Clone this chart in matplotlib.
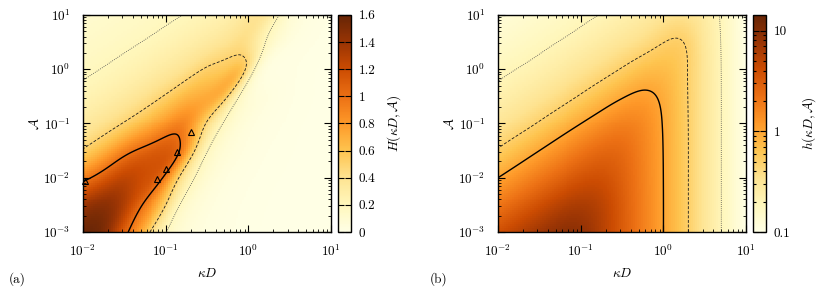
import numpy as np
import matplotlib.pyplot as plt
from matplotlib.colors import LogNorm, Normalize
from matplotlib.ticker import FixedLocator, FixedFormatter, LogLocator, NullFormatter

plt.rcParams.update({
    "font.family": "serif",
    "font.serif": ["cmr10"],
    "mathtext.fontset": "cm",
    "axes.formatter.use_mathtext": True,
    "axes.unicode_minus": False,
    "font.size": 9.5,
})

log_kd = [-2, -1.75, -1.5, -1.25, -1, -0.75, -0.5, -0.25, 0, 0.25, 0.5, 0.75, 1]
log_a = [-3, -2.5, -2, -1.5, -1, -0.5, 0, 0.5, 1]

# panel (a): H(kD, A), rows follow log_a, columns follow log_kd
H_vals = [
    [1.58, 1.50, 1.08, 0.62, 0.21, 0.07, 0.03, 0.015, 0.008, 0.005, 0.003, 0.002, 0.001],
    [1.38, 1.45, 1.30, 0.95, 0.50, 0.13, 0.05, 0.02, 0.01, 0.006, 0.004, 0.002, 0.001],
    [0.93, 1.12, 1.25, 1.18, 0.92, 0.32, 0.10, 0.035, 0.015, 0.008, 0.005, 0.003, 0.002],
    [0.519, 0.684, 0.912, 1.06, 1.12, 0.80, 0.21, 0.07, 0.03, 0.012, 0.007, 0.004, 0.002],
    [0.335, 0.41, 0.515, 0.66, 0.82, 0.88, 0.47, 0.15, 0.05, 0.02, 0.01, 0.005, 0.003],
    [0.238, 0.280, 0.335, 0.412, 0.519, 0.66, 0.72, 0.50, 0.09, 0.035, 0.015, 0.007, 0.004],
    [0.180, 0.205, 0.238, 0.280, 0.335, 0.412, 0.52, 0.59, 0.40, 0.03, 0.015, 0.008, 0.004],
    [0.140, 0.158, 0.180, 0.205, 0.238, 0.280, 0.335, 0.40, 0.41, 0.16, 0.04, 0.015, 0.008],
    [0.112, 0.125, 0.140, 0.158, 0.180, 0.205, 0.238, 0.280, 0.37, 0.33, 0.10, 0.03, 0.012],
]

# panel (b): h(kD, A)
h_vals = [
    [3.85, 5.30, 7.20, 9.00, 8.60, 5.60, 3.20, 1.78, 1.00, 0.562, 0.316, 0.178, 0.100],
    [2.00, 2.80, 3.90, 5.30, 6.10, 5.10, 3.15, 1.78, 1.00, 0.562, 0.316, 0.178, 0.100],
    [1.00, 1.41, 1.99, 2.75, 3.59, 3.83, 2.88, 1.75, 0.997, 0.562, 0.316, 0.178, 0.100],
    [0.525, 0.716, 1.00, 1.41, 1.96, 2.50, 2.44, 1.68, 0.990, 0.562, 0.316, 0.178, 0.100],
    [0.324, 0.403, 0.525, 0.716, 0.995, 1.37, 1.69, 1.50, 0.968, 0.559, 0.316, 0.178, 0.100],
    [0.231, 0.271, 0.324, 0.403, 0.525, 0.710, 0.953, 1.107, 0.893, 0.551, 0.315, 0.178, 0.100],
    [0.181, 0.203, 0.231, 0.271, 0.324, 0.402, 0.518, 0.665, 0.708, 0.540, 0.312, 0.178, 0.100],
    [0.149, 0.163, 0.181, 0.203, 0.231, 0.271, 0.322, 0.393, 0.495, 0.495, 0.301, 0.177, 0.100],
    [0.125, 0.136, 0.149, 0.163, 0.181, 0.203, 0.231, 0.267, 0.320, 0.345, 0.271, 0.173, 0.0995],
]

levels = [0.2, 0.5, 1.0]

# measured points in panel (a)
pts_kd = [0.0105, 0.079, 0.10, 0.138, 0.20]
pts_a = [0.0089, 0.0095, 0.0148, 0.030, 0.069]

cb_a_ticks = [0, 0.2, 0.4, 0.6, 0.8, 1.0, 1.2, 1.4, 1.6]
cb_a_labels = ["0", "0.2", "0.4", "0.6", "0.8", "1", "1.2", "1.4", "1.6"]
cb_b_ticks = [0.1, 1, 10]
cb_b_labels = ["0.1", "1", "10"]


def nat_spline(x, y, xe):
    # natural cubic spline, linear beyond the end nodes
    x = np.asarray(x, float)
    y = np.asarray(y, float)
    xe = np.asarray(xe, float)
    n = len(x)
    h = np.diff(x)
    A = np.zeros((n, n))
    r = np.zeros(n)
    A[0, 0] = A[-1, -1] = 1
    for i in range(1, n - 1):
        A[i, i - 1] = h[i - 1]
        A[i, i] = 2 * (h[i - 1] + h[i])
        A[i, i + 1] = h[i]
        r[i] = 6 * ((y[i + 1] - y[i]) / h[i] - (y[i] - y[i - 1]) / h[i - 1])
    m = np.linalg.solve(A, r)
    xc = np.clip(xe, x[0], x[-1])
    k = np.clip(np.searchsorted(x, xc) - 1, 0, n - 2)
    hk = h[k]
    a = (x[k + 1] - xc) / hk
    b = (xc - x[k]) / hk
    out = a * y[k] + b * y[k + 1] + ((a ** 3 - a) * m[k] + (b ** 3 - b) * m[k + 1]) * hk ** 2 / 6
    s0 = (y[1] - y[0]) / h[0] - h[0] * m[1] / 6
    s1 = (y[-1] - y[-2]) / h[-1] + h[-1] * m[-2] / 6
    out = np.where(xe < x[0], y[0] + s0 * (xe - x[0]), out)
    out = np.where(xe > x[-1], y[-1] + s1 * (xe - x[-1]), out)
    return out


def smooth_field(vals, uu, vv, shear):
    # spline each row, then spline across rows along lines du/dv = shear
    z = np.log10(np.asarray(vals, dtype=float))
    UU, VV = np.meshgrid(uu, vv)
    stack = np.array([nat_spline(log_kd, row, UU - shear * (VV - v0))
                      for row, v0 in zip(z, log_a)])
    eye = np.eye(len(log_a))
    W = np.array([nat_spline(log_a, e, vv) for e in eye]).T
    out = np.einsum("ji,ijk->jk", W, stack)
    return 10 ** out


def draw_panel(ax, cax, vals, shear, norm, ticks, labels, clabel, log_cb):
    ue = np.linspace(log_kd[0], log_kd[-1], 126)
    ve = np.linspace(log_a[0], log_a[-1], 111)
    uc = 0.5 * (ue[1:] + ue[:-1])
    vc = 0.5 * (ve[1:] + ve[:-1])
    Z = smooth_field(vals, uc, vc, shear)
    mesh = ax.pcolormesh(10 ** ue, 10 ** ve, Z, cmap="YlOrBr", norm=norm,
                         shading="flat", rasterized=True)

    uf = np.linspace(log_kd[0], log_kd[-1], 400)
    vf = np.linspace(log_a[0], log_a[-1], 400)
    Zf = smooth_field(vals, uf, vf, shear)
    ax.contour(10 ** uf, 10 ** vf, Zf, levels=levels, colors=["0.3", "0.1", "k"],
               linestyles=[(0, (1, 1.5)), (0, (3.5, 2)), "solid"],
               linewidths=[0.6, 0.6, 1.0])

    ax.set_xscale("log")
    ax.set_yscale("log")
    ax.set_xlim(1e-2, 1e1)
    ax.set_ylim(1e-3, 1e1)
    ax.set_xlabel(r"$\kappa D$", fontsize=9.5, labelpad=6)
    ax.set_ylabel(r"$\mathcal{A}$", fontsize=9.5, labelpad=1)
    ax.tick_params(which="both", direction="in", top=True, right=True)
    ax.tick_params(which="major", length=5, width=0.8, labelsize=9.5)
    ax.tick_params(axis="x", which="major", pad=8)
    ax.tick_params(axis="y", which="major", pad=9)
    ax.tick_params(which="minor", length=2.5, width=0.6)
    for s in ax.spines.values():
        s.set_linewidth(1.0)

    cb = plt.colorbar(mesh, cax=cax)
    cb.outline.set_linewidth(1.0)
    cax.yaxis.set_major_locator(FixedLocator(ticks))
    cax.yaxis.set_major_formatter(FixedFormatter(labels))
    if log_cb:
        cax.yaxis.set_minor_locator(LogLocator(subs=np.arange(2, 10)))
        cax.yaxis.set_minor_formatter(NullFormatter())
    cax.tick_params(which="both", direction="in", left=True, right=True,
                    colors="k", width=0.8)
    cax.tick_params(which="major", length=4, labelsize=9.5, pad=5.5)
    cax.tick_params(which="minor", length=2)
    cb.set_label(clabel, fontsize=9.5, labelpad=7)


fig = plt.figure(figsize=(8.3, 2.93), dpi=100)
ax_a = fig.add_axes([0.100, 0.208, 0.299, 0.741])
cax_a = fig.add_axes([0.4072, 0.208, 0.0157, 0.741])
ax_b = fig.add_axes([0.600, 0.208, 0.299, 0.741])
cax_b = fig.add_axes([0.9072, 0.208, 0.0157, 0.741])

draw_panel(ax_a, cax_a, H_vals, 0.345, Normalize(0, 1.6), cb_a_ticks, cb_a_labels,
           r"$H(\kappa D,\mathcal{A})$", False)
ax_a.plot(pts_kd, pts_a, ls="none", marker="^", ms=4.5, mfc="none", mec="k",
          mew=0.8, clip_on=False)

draw_panel(ax_b, cax_b, h_vals, 0.0, LogNorm(0.1, 14.3), cb_b_ticks, cb_b_labels,
           r"$h(\kappa D,\mathcal{A})$", True)

fig.text(0.010, 0.035, "(a)", fontsize=9.5)
fig.text(0.518, 0.035, "(b)", fontsize=9.5)

fig.savefig("out.png", dpi=100)
